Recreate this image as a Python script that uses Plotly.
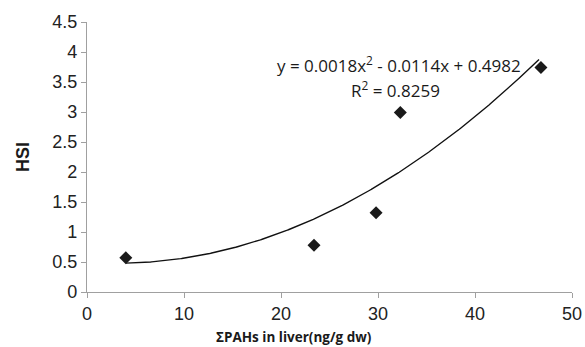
import numpy as np
import plotly.graph_objects as go

# Data
pahs = [4.0, 23.4, 29.8, 32.3, 46.8]
hsi = [0.57, 0.78, 1.32, 2.99, 3.74]

# Displayed polynomial trendline coefficients (a*x^2 + b*x + c)
trend_coef = [0.0018, -0.0114, 0.4982]
trend_range = [4.0, 46.6]

x_ticks = [0, 10, 20, 30, 40, 50]
y_ticks = [0, 0.5, 1, 1.5, 2, 2.5, 3, 3.5, 4, 4.5]
y_tick_labels = ["0", "0.5", "1", "1.5", "2", "2.5", "3", "3.5", "4", "4.5"]

tx = np.linspace(trend_range[0], trend_range[1], 400)
ty = np.polyval(trend_coef, tx)

fig = go.Figure()
fig.add_trace(go.Scatter(x=tx, y=ty, mode="lines",
                         line=dict(color="#111111", width=1.4),
                         showlegend=False, hoverinfo="skip"))
fig.add_trace(go.Scatter(x=pahs, y=hsi, mode="markers",
                         marker=dict(symbol="diamond", size=10, color="#1a1a1a"),
                         showlegend=False))

fig.add_annotation(x=0.643, y=0.896, xref="paper", yref="paper",
                   text="y = 0.0018x<sup>2</sup> - 0.0114x + 0.4982",
                   showarrow=False, font=dict(family="Open Sans", size=17, color="#1a1a1a"))
fig.add_annotation(x=0.636, y=0.804, xref="paper", yref="paper",
                   text="R<sup>2</sup> = 0.8259",
                   showarrow=False, font=dict(family="Open Sans", size=17, color="#1a1a1a"))

# x-axis title (centred on the figure, as in the reference)
fig.add_annotation(x=(294 - 87) / 485, y=-0.167, xref="paper", yref="paper",
                   yanchor="middle",
                   text="<b>ΣPAHs in liver(ng/g dw)</b>",
                   showarrow=False, font=dict(family="Open Sans", size=13.5, color="#1a1a1a"))

axis_common = dict(showgrid=False, zeroline=False, showline=True, automargin=False,
                   linecolor="#a0a0a0", linewidth=1.2,
                   ticks="outside", ticklen=5, tickcolor="#a0a0a0", tickwidth=1.2,
                   tickfont=dict(family="Liberation Sans, Arial", size=18, color="#222222"))

fig.update_xaxes(range=[0, 50], tickvals=x_ticks, **axis_common)
fig.update_yaxes(range=[0, 4.5], tickvals=y_ticks, ticktext=y_tick_labels,
                 title=dict(text="<b>HSI</b>",
                            font=dict(family="Liberation Sans, Arial", size=18, color="#1a1a1a"),
                            standoff=17),
                 **axis_common)

fig.update_layout(width=585, height=347,
                  margin=dict(l=87, r=13, t=22, b=55),
                  paper_bgcolor="white", plot_bgcolor="white")

fig.write_html("out.html", config={"displayModeBar": False},
               post_script="document.body.style.margin='0';document.body.style.padding='0';")
